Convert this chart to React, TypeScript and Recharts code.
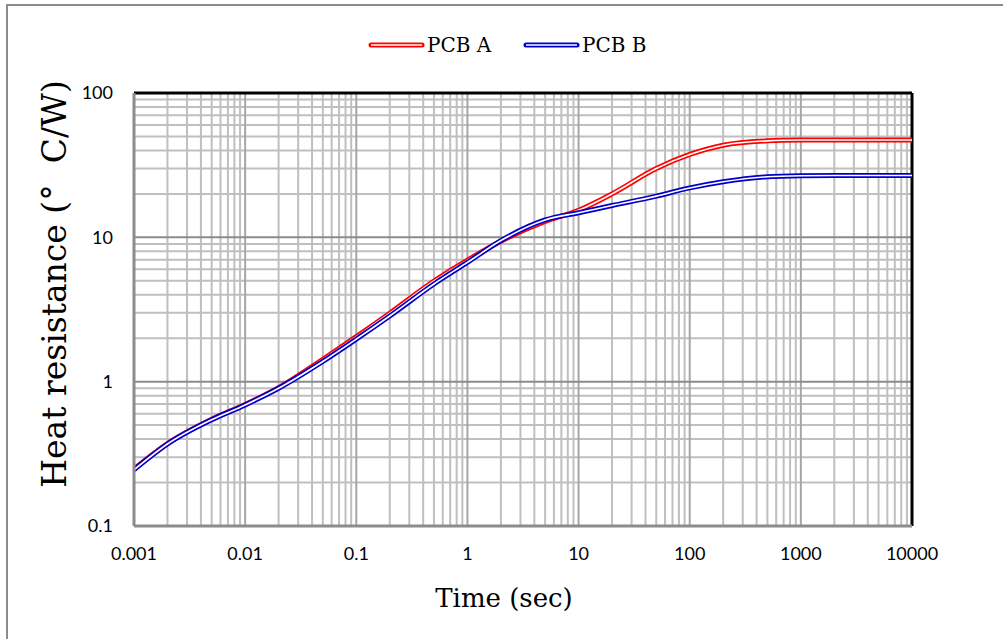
import { LineChart, Line, XAxis, YAxis, ReferenceLine, Label } from "recharts";

const times = [
  0.001, 0.002, 0.005, 0.01, 0.02, 0.05, 0.1, 0.2, 0.5, 1, 2, 5, 10, 20, 50,
  100, 200, 500, 1000, 2000, 5000, 10000,
];
const pcbA = [
  0.248, 0.372, 0.548, 0.695, 0.91, 1.43, 2.05, 2.98, 4.98, 6.95, 9.4, 12.9,
  15.4, 20, 30, 37.5, 43.5, 46.6, 47.2, 47.3, 47.3, 47.3,
];
const pcbB = [
  0.245, 0.37, 0.545, 0.69, 0.9, 1.38, 1.97, 2.85, 4.75, 6.7, 9.5, 13.2, 14.8,
  16.6, 19.3, 22, 24.3, 26.3, 26.7, 26.8, 26.8, 26.8,
];
const xTicks = [0.001, 0.01, 0.1, 1, 10, 100, 1000, 10000];
const yTicks = [0.1, 1, 10, 100];
const minorSteps = [2, 3, 4, 5, 6, 7, 8, 9];

const data = times.map((t, i) => ({ t, a: pcbA[i], b: pcbB[i] }));

const xMinor = xTicks.slice(0, -1).flatMap((d) => minorSteps.map((m) => +(d * m).toPrecision(3)));
const yMinor = yTicks.slice(0, -1).flatMap((d) => minorSteps.map((m) => +(d * m).toPrecision(3)));

const RED = "#FF0000";
const BLUE = "#0000C8";
const tickStyle = { fill: "#000", fontSize: 18, fontFamily: "Lato, sans-serif" };
const serif = "'DejaVu Serif', serif";

export default function App() {
  return (
    <div style={{ position: "absolute", left: 0, top: 0, width: 1003, height: 639, background: "#fff" }}>
      <div
        style={{
          position: "absolute",
          left: 6,
          top: 4,
          right: 0,
          bottom: 0,
          borderLeft: "2px solid #8c8c8c",
          borderTop: "2px solid #8c8c8c",
        }}
      />
      {/* legend */}
      <div style={{ position: "absolute", left: 0, top: 33, width: 1003, height: 26, fontFamily: serif, fontSize: 20 }}>
        {[
          { name: "PCB A", color: RED, x: 368 },
          { name: "PCB B", color: BLUE, x: 523 },
        ].map((s) => (
          <div key={s.name} style={{ position: "absolute", left: s.x, top: 0, display: "flex", alignItems: "center" }}>
            <svg width={57} height={24}>
              <line x1={3} y1={12} x2={54} y2={12} stroke={s.color} strokeWidth={5} strokeLinecap="round" />
              <line x1={3} y1={12} x2={54} y2={12} stroke="#fff" strokeWidth={1.6} />
            </svg>
            <span style={{ marginLeft: 2 }}>{s.name}</span>
          </div>
        ))}
      </div>
      <LineChart
        width={1003}
        height={639}
        data={data}
        margin={{ top: 93, right: 91, left: 0, bottom: 0 }}
        style={{ position: "absolute", left: 0, top: 0 }}
      >
        <XAxis
          dataKey="t"
          type="number"
          scale="log"
          domain={[0.001, 10000]}
          ticks={xTicks}
          allowDataOverflow
          height={113}
          tickLine={false}
          tickMargin={15}
          tick={tickStyle}
          axisLine={{ stroke: "#8c8c8c", strokeWidth: 3 }}
          tickFormatter={(v) => String(v)}
        >
          <Label
            content={() => (
              <text x={504} y={607} textAnchor="middle" style={{ fontFamily: serif, fontSize: 26, fill: "#000" }}>
                Time (sec)
              </text>
            )}
          />
        </XAxis>
        <YAxis
          type="number"
          scale="log"
          domain={[0.1, 100]}
          ticks={yTicks}
          allowDataOverflow
          width={134}
          tickLine={false}
          tickMargin={15}
          tick={tickStyle}
          axisLine={{ stroke: "#8c8c8c", strokeWidth: 3 }}
          tickFormatter={(v) => String(v)}
        >
          <Label
            content={() => (
              <text
                x={54}
                y={284}
                transform="rotate(-90 54 284)"
                textAnchor="middle"
                dominantBaseline="central"
                style={{ fontFamily: serif, fontSize: 33, fill: "#000" }}
              >
                {"Heat resistance (°\u00a0\u00a0C/W)"}
              </text>
            )}
          />
        </YAxis>
        {xMinor.map((v) => (
          <ReferenceLine key={"xm" + v} x={v} stroke="#bfbfbf" strokeWidth={2} />
        ))}
        {yMinor.map((v) => (
          <ReferenceLine key={"ym" + v} y={v} stroke="#bfbfbf" strokeWidth={2} />
        ))}
        {xTicks.slice(1, -1).map((v) => (
          <ReferenceLine key={"xM" + v} x={v} stroke="#a6a6a6" strokeWidth={2} />
        ))}
        {yTicks.slice(1, -1).map((v) => (
          <ReferenceLine key={"yM" + v} y={v} stroke="#8c8c8c" strokeWidth={2} />
        ))}
        <ReferenceLine y={100} stroke="#000" strokeWidth={3} />
        <ReferenceLine x={10000} stroke="#000" strokeWidth={3} />
        <Line dataKey="a" type="monotone" stroke={RED} strokeWidth={5} dot={false} isAnimationActive={false} />
        <Line dataKey="a" type="monotone" stroke="#fff" strokeWidth={1.6} dot={false} isAnimationActive={false} />
        <Line dataKey="b" type="monotone" stroke={BLUE} strokeWidth={5} dot={false} isAnimationActive={false} />
        <Line dataKey="b" type="monotone" stroke="#fff" strokeWidth={1.6} dot={false} isAnimationActive={false} />
      </LineChart>
    </div>
  );
}
